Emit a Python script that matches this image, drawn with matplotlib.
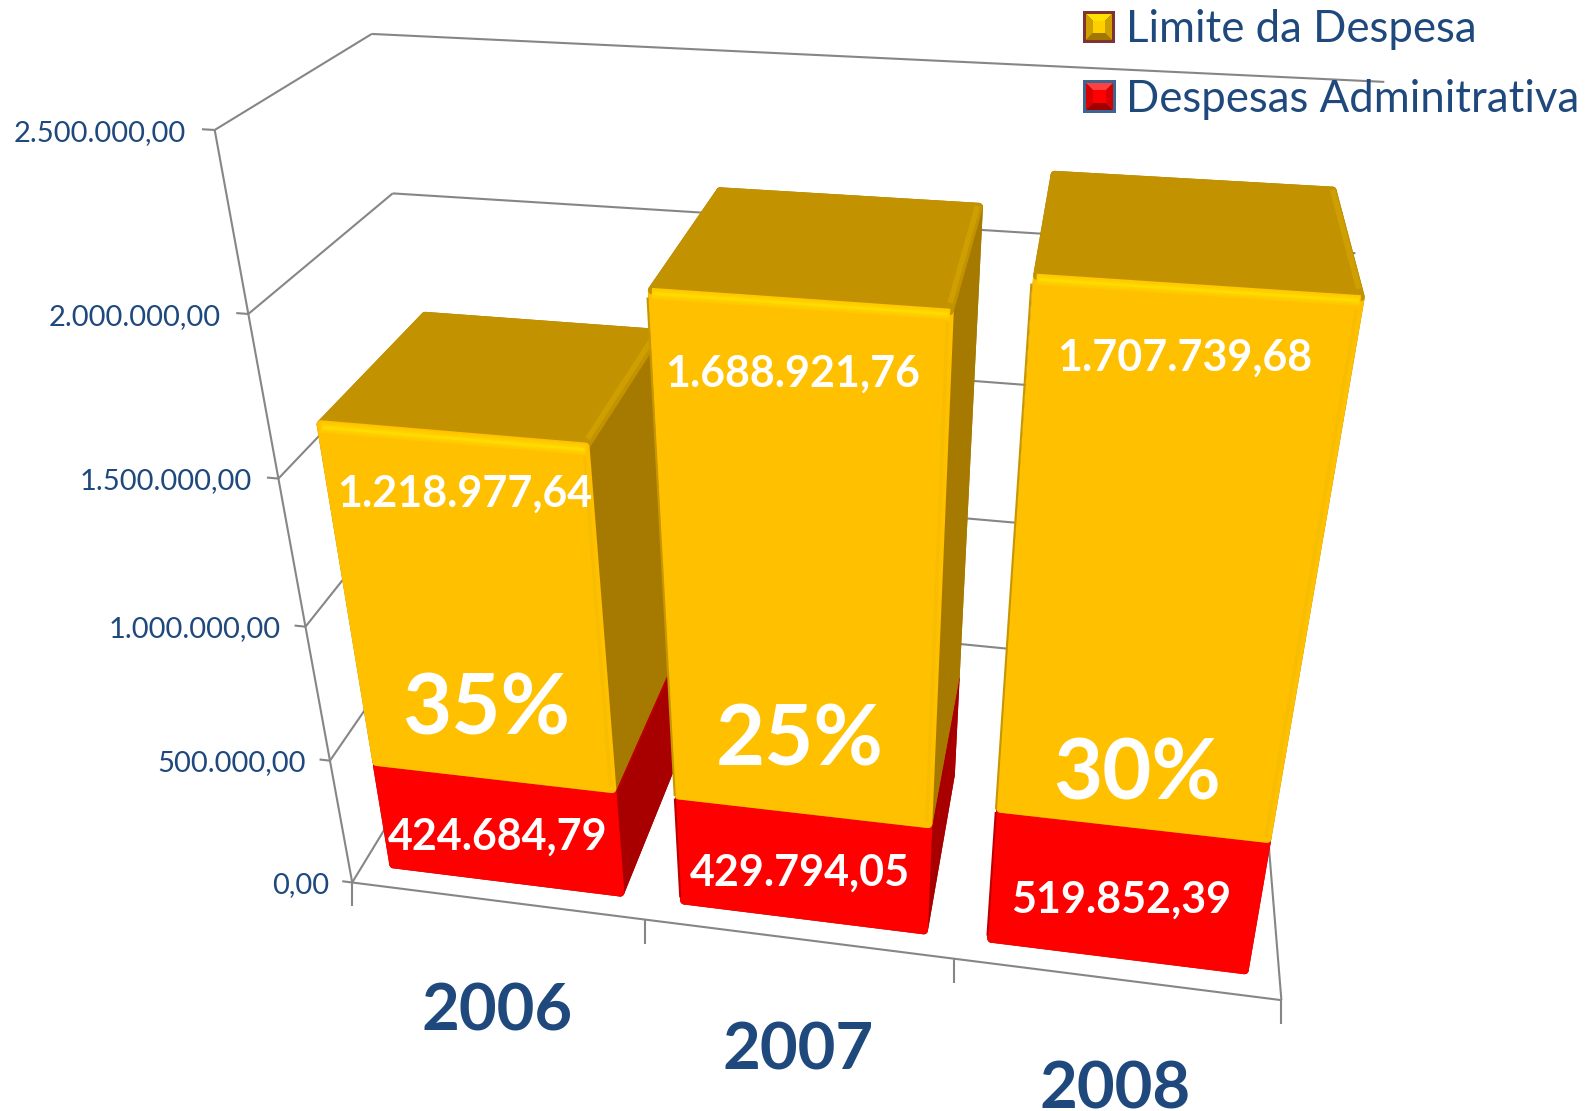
import numpy as np
import matplotlib
matplotlib.use('Agg')
import matplotlib.pyplot as plt
from matplotlib.patches import Polygon, Rectangle
from mpl_toolkits.mplot3d import proj3d

# Datos del grafico
anos = ['2006', '2007', '2008']
despesas = [424684.79, 429794.05, 519852.39]
limite = [1218977.64, 1688921.76, 1707739.68]
percentuais = ['35%', '25%', '30%']
despesas_txt = ['424.684,79', '429.794,05', '519.852,39']
limite_txt = ['1.218.977,64', '1.688.921,76', '1.707.739,68']
eixo_valores = [0, 500000, 1000000, 1500000, 2000000, 2500000]
eixo_txt = ['0,00', '500.000,00', '1.000.000,00', '1.500.000,00', '2.000.000,00', '2.500.000,00']

W, H = 1594, 1111
AZUL = '#1F497D'
CINZA = '#868686'

# Camara ajustada contra la imagen (pixeles por unidad de vista y centro)
# focal y zoom escalados juntos: la perspectiva no cambia y los ejes cubren la figura
FOCAL = 0.18
ESCALA = 1680.022 / FOCAL
CX, CY = 825.196, 515.591
LADO = 0.185 * ESCALA
ANCHO_BARRA, Y0, Y1 = 0.8109, 0.0927, 0.9009

fig = plt.figure(figsize=(W / 100, H / 100), dpi=100)
pos = [(CX - 0.095 * ESCALA) / W, (H - (CY + 0.095 * ESCALA)) / H, LADO / W, LADO / H]
ax = fig.add_axes(pos, projection='3d', computed_zorder=False)
ax.set_xlim(0, 3)
ax.set_ylim(0, 1)
ax.set_zlim(0, 2500000)
ax.set_autoscale_on(False)
ax.set_proj_type('persp', focal_length=FOCAL)
ax.view_init(29.9020, -80.1757, -0.1223)
ax.set_box_aspect((3.0051, 1, 2.5429), zoom=4.1450 * FOCAL)
ax.set_axis_off()
ax.apply_aspect()

# Capa en pixeis para textos y marcas planas
top = fig.add_axes([0, 0, 1, 1], zorder=5)
top.set_xlim(0, W)
top.set_ylim(H, 0)
top.axis('off')


def proj_px(x, y, z):
    # de datos 3D a pixeis de la figura
    xs, ys, _ = proj3d.proj_transform(x, y, z, ax.get_proj())
    px, py = ax.transData.transform((xs, ys))
    return px, H - py


def linha(xs, ys, zs, cor=CINZA, lw=1.5, z=1):
    ax.plot(xs, ys, zs, color=cor, lw=lw, zorder=z, solid_capstyle='butt')


# Paredes, chao e marcas
zmax = eixo_valores[-1]
for v in eixo_valores:
    if v > 0:
        linha([0, 3], [1, 1], [v, v])
    linha([0, 0], [0, 1], [v, v])
    linha([-0.035, 0], [0, 0], [v, v])
linha([0, 0], [0, 0], [0, zmax])
linha([0, 3], [0, 0], [0, 0])
linha([3, 3], [0, 1], [0, 0])
for x in range(4):
    bx, by = proj_px(x, 0, 0)
    top.plot([bx, bx], [by, by + 24], color=CINZA, lw=1.5, solid_capstyle='butt')

# Rotulos dos eixos
for v, t in zip(eixo_valores, eixo_txt):
    tx, ty = proj_px(-0.08, 0, v)
    top.text(tx, ty + 5, t, ha='right', va='center', color=AZUL, fontsize=21, family='Lato')
pos_ano = [(497, 1012), (798, 1051), (1115, 1090)]
for p, t in zip(pos_ano, anos):
    top.text(*p, t, ha='center', va='center', color=AZUL, fontsize=47, family='Lato', fontweight='bold')

# Barras empilhadas (recuo para los cantos arredondados del contorno)
cores_lim = ['#A67A00', '#C29200', '#FFC000', '#A67A00', '#A67A00', '#A67A00']
cores_des = ['#A80000', '#C00000', '#FF0000', '#A80000', '#A80000', '#A80000']
RX, RY, RZ = 0.0135, 0.012, 9000
for i in range(3):
    x0 = i + 0.5 - ANCHO_BARRA / 2
    x1 = i + 0.5 + ANCHO_BARRA / 2
    larg = ANCHO_BARRA - 2 * RX
    d = Y1 - Y0 - RY
    ax.bar3d([x0 + RX], [Y0], [15000], larg, d, despesas[i] - 15000, color=cores_des, shade=False,
             edgecolor=cores_des, linewidth=6, joinstyle='round', zorder=10 + 2 * i)
    topo = despesas[i] + limite[i]
    ax.bar3d([x0 + RX], [Y0], [despesas[i] + 15000], larg, d, limite[i] - 15000 - RZ, color=cores_lim, shade=False,
             edgecolor=cores_lim, linewidth=6, joinstyle='round', zorder=11 + 2 * i)
    # brilho do chanfro
    z = 11.5 + 2 * i
    zb = topo - 18000
    linha([x1 - 0.016, x1 - 0.016], [Y0 + 0.03, Y1 - 0.03], [topo, topo], cor='#CF9E00', lw=4, z=z)
    linha([x1 - 0.018, x1 - 0.018], [Y0, Y0], [despesas[i] + 20000, topo - 40000], cor='#F8BC00', lw=2.5, z=z)
    linha([x0 + 0.012, x1 - 0.012], [Y0, Y0], [zb, zb], cor='#FFC800', lw=8, z=z)
    linha([x0 + 0.014, x1 - 0.014], [Y0, Y0], [zb, zb], cor='#FFD000', lw=5, z=z)
    linha([x0 + 0.018, x1 - 0.018], [Y0, Y0], [zb, zb], cor='#FFDC00', lw=2, z=z)
    if i > 0:
        linha([x0, x0], [Y0, Y0], [despesas[i] + 10000, topo - 30000], cor='#C89600', lw=1.5, z=z)
        linha([x0, x0], [Y0, Y0], [25000, despesas[i]], cor='#C00000', lw=1.5, z=z)

# Textos sobre as barras
pos_lim = [(465, 494), (793, 374), (1185, 358)]
pos_des = [(498, 837), (800, 873), (1121, 900)]
pos_pct = [(486, 710), (800, 741), (1137, 775)]
for i in range(3):
    top.text(*pos_lim[i], limite_txt[i], color='white', fontsize=31, family='Lato', fontweight='bold', ha='center', va='center')
    top.text(*pos_des[i], despesas_txt[i], color='white', fontsize=31, family='Lato', fontweight='bold', ha='center', va='center')
    top.text(*pos_pct[i], percentuais[i], color='white', fontsize=61, family='Lato', fontweight='bold', ha='center', va='center')


def chave(x, y, s, borda, claro, meio, lado, escuro):
    # quadradinho chanfrado da legenda
    top.add_patch(Rectangle((x, y), s, s, fc=borda, ec='none'))
    a, b = x + 3, x + s - 3
    c, d = y + 3, y + s - 3
    m = 7
    top.add_patch(Polygon([(a, c), (b, c), (b - m, c + m), (a + m, c + m)], fc=claro, ec='none'))
    top.add_patch(Polygon([(a, d), (b, d), (b - m, d - m), (a + m, d - m)], fc=escuro, ec='none'))
    top.add_patch(Polygon([(a, c), (a + m, c + m), (a + m, d - m), (a, d)], fc=lado, ec='none'))
    top.add_patch(Polygon([(b, c), (b - m, c + m), (b - m, d - m), (b, d)], fc=lado, ec='none'))
    top.add_patch(Rectangle((a + m, c + m), b - a - 2 * m, d - c - 2 * m, fc=meio, ec='none'))


chave(1083, 11, 32, '#7F3333', '#FFE000', '#FFD000', '#D0A000', '#A07800')
chave(1083, 80, 33, '#3E6490', '#FF4040', '#FF0000', '#D80000', '#A00000')
top.text(1126, 29, 'Limite da Despesa', color=AZUL, fontsize=31.5, family='Lato', va='center')
top.text(1126, 99, 'Despesas Adminitrativa', color=AZUL, fontsize=31.5, family='Lato', va='center')

fig.savefig('out.png', dpi=100)
